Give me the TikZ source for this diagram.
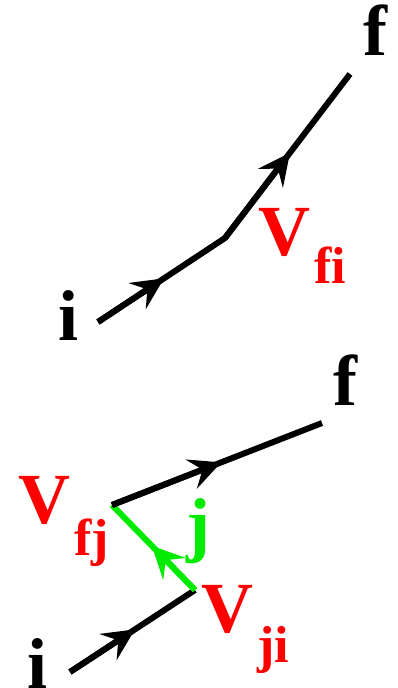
\documentclass[tikz,border=0pt]{standalone}
\usepackage{fontspec}
\setmainfont{Liberation Serif}
\usetikzlibrary{arrows.meta,calc}
\definecolor{fred}{RGB}{255,0,0}
\definecolor{fgreen}{RGB}{0,235,0}
\tikzset{
  lbl/.style={font=\fontsize{72}{72}\selectfont\bfseries, inner sep=0pt, anchor=base},
  sublbl/.style={font=\fontsize{52}{52}\selectfont\bfseries, inner sep=0pt, anchor=base west, text=fred},
  prop/.style={line width=6pt, line join=round},
  halfarrow/.style={line width=6pt, -{Stealth[length=32pt,width=31pt,inset=12pt]}}
}
\begin{document}
\begin{tikzpicture}[x=1pt,y=-1pt]
\useasboundingbox (0,0) rectangle (398,688);
% top diagram
\coordinate (i1) at (98,322);
\coordinate (v1) at (225,238);
\coordinate (f1) at (350,74);
\draw[prop] (i1) -- (v1) -- (f1);
\draw[halfarrow] (i1) -- ($(i1)!0.52!(v1)$);
\draw[halfarrow] (v1) -- ($(v1)!0.52!(f1)$);
\node[lbl] (ti) at (69,340) {i};
\node[lbl] (tf) at (375,55) {f};
\node[lbl, anchor=base west, text=fred] (tV) at (258,255) {V};
\node[sublbl] (tVs) at (314,283) {fi};
% bottom diagram
\coordinate (i2) at (70,672);
\coordinate (vji) at (195,590);
\coordinate (vfj) at (112,505);
\coordinate (f2) at (322,423);
\draw[prop] (i2) -- (vji);
\draw[prop,fgreen] (vji) -- (vfj);
\draw[prop] (vfj) -- (f2);
\draw[halfarrow] (i2) -- ($(i2)!0.52!(vji)$);
\draw[halfarrow,fgreen] (vji) -- ($(vji)!0.52!(vfj)$);
\draw[halfarrow] (vfj) -- ($(vfj)!0.52!(f2)$);
\node[lbl] (bi) at (38,688) {i};
\node[lbl] (bf) at (345,405) {f};
\node[lbl, anchor=base west, text=fred] (bV1) at (18,523) {V};
\node[sublbl] (bV1s) at (74,555) {fj};
\node[lbl, text=fgreen] (bj) at (198,548) {j};
\node[lbl, anchor=base west, text=fred] (bV2) at (201,632) {V};
\node[sublbl] (bV2s) at (257,662) {ji};
\end{tikzpicture}
\end{document}
